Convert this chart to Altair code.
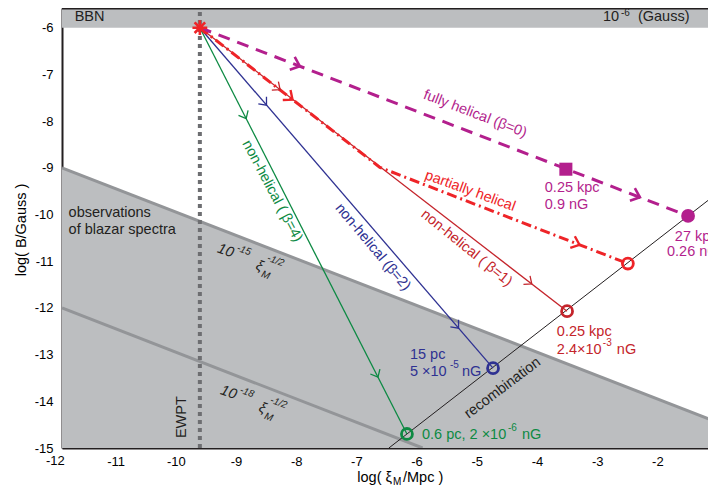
import altair as alt
import pandas as pd
import numpy as np

FONT = "Liberation Sans"
MAG = "#b31f8d"
RED = "#ee2428"
DRED = "#c4242b"
BLUE = "#2e3192"
GREEN = "#0d8a43"
DARK = "#231f20"
BAND = "#bcbec0"
BANDLINE = "#939598"
DOT = "#6d6e71"

# ---------------- data ----------------
X_DOMAIN = [-11.89, -1.159]
Y_DOMAIN = [-15, -5.578]
X_TICKS = list(range(-12, 0))
Y_TICKS = list(range(-15, -5))

W, H = 646, 440
PX = W / (X_DOMAIN[1] - X_DOMAIN[0])
PY = H / (Y_DOMAIN[1] - Y_DOMAIN[0])

start_x, start_y = -9.60, -6.0
ewpt_x = -9.60
bbn_y = -6.0

blazar_x = [-11.89, -1.0]
blazar_y = [-9.0, -14.45]          # 1e-15 xi^-1/2
low_x = [-11.89, -5.90]
low_y = [-12.0, -15.0]             # 1e-18 xi^-1/2

recomb_x = [-6.46, -1.0]
recomb_y = [-15.0, -9.54]

green_x = [-9.60, -6.16]; green_y = [-6.0, -14.70]
blue_x = [-9.60, -4.73]; blue_y = [-6.0, -13.29]
red_x = [-9.60, -3.50]; red_y = [-6.0, -12.07]
partial_x = [-9.60, -6.61, -2.49]; partial_y = [-6.0, -8.99, -11.05]
full_x = [-9.60, -1.49]; full_y = [-6.0, -10.03]

open_x = [-6.16, -4.73, -3.50, -2.49]
open_y = [-14.70, -13.29, -12.07, -11.05]
open_c = [GREEN, BLUE, DRED, RED]

mag_circle = (-1.49, -10.03)
mag_square = (-3.52, -9.03)

arrow_sets = [
    (full_x, full_y, [-7.99, -2.34], MAG, 2.6, 260),
    (partial_x, partial_y, [-8.10, -3.34], RED, 2.4, 220),
    (red_x, red_y, [-8.30, -4.12], DRED, 1.3, 160),
    (blue_x, blue_y, [-8.52, -5.33], BLUE, 1.3, 160),
    (green_x, green_y, [-8.85, -6.66], GREEN, 1.3, 160),
]

# text annotations: text, x, y, color, size, angle, dx, dy, align, italic
ANNOT = [
    ("BBN", -11.68, -5.77, DARK, 14.5, 0, 0, 0, "left", False),
    ("10", -2.905, -5.77, DARK, 14.5, 0, 0, 0, "left", False),
    ("-6", -2.905, -5.77, DARK, 10, 0, 18, -4, "left", False),
    ("(Gauss)", -2.905, -5.77, DARK, 14.5, 0, 35, 0, "left", False),
    ("fully helical (β=0)", -5.03, -7.85, MAG, 14.5, 21, 0, 0, "center", False),
    ("partially helical", -5.11, -9.50, RED, 14.5, 20, 0, 0, "center", False),
    ("non-helical ( β=1)", -5.17, -10.72, DRED, 14.5, 39, 0, 0, "center", False),
    ("non-helical (β=2)", -6.73, -10.70, BLUE, 14.5, 50, 0, 0, "center", False),
    ("non-helical ( β=4)", -8.40, -9.50, GREEN, 14.5, 62, 0, 0, "center", False),
    ("observations", -11.78, -9.97, DARK, 14.5, 0, 0, 0, "left", False),
    ("of blazar spectra", -11.78, -10.34, DARK, 14.5, 0, 0, 0, "left", False),
    ("10", -9.30, -10.72, DARK, 14.5, 20, 0, 0, "left", True),
    ("-15", -9.30, -10.72, DARK, 10, 20, 18, -7, "left", True),
    ("ξ", -9.30, -10.72, DARK, 14.5, 20, 42, 3, "left", True),
    ("-1/2", -9.30, -10.72, DARK, 10, 20, 50, -8, "left", True),
    ("M", -9.30, -10.72, DARK, 10, 20, 50, 9, "left", True),
    ("10", -9.25, -13.76, DARK, 14.5, 20, 0, 0, "left", True),
    ("-18", -9.25, -13.76, DARK, 10, 20, 18, -7, "left", True),
    ("ξ", -9.25, -13.76, DARK, 14.5, 20, 42, 3, "left", True),
    ("-1/2", -9.25, -13.76, DARK, 10, 20, 50, -8, "left", True),
    ("M", -9.25, -13.76, DARK, 10, 20, 50, 9, "left", True),
    ("EWPT", -9.90, -14.34, DARK, 14.5, 270, 0, 0, "center", False),
    ("recombination", -4.57, -13.72, DARK, 14.5, 323, 0, 0, "center", False),
    ("15 pc", -6.11, -13.01, BLUE, 14.5, 0, 0, 0, "left", False),
    ("5 ×10", -6.11, -13.37, BLUE, 14.5, 0, 0, 0, "left", False),
    ("-5", -6.11, -13.37, BLUE, 10, 0, 40, -7, "left", False),
    ("nG", -6.11, -13.37, BLUE, 14.5, 0, 52, 0, "left", False),
    ("0.25 kpc", -3.67, -12.52, DRED, 14.5, 0, 0, 0, "left", False),
    ("2.4×10", -3.67, -12.91, DRED, 14.5, 0, 0, 0, "left", False),
    ("-3", -3.67, -12.91, DRED, 10, 0, 46, -7, "left", False),
    ("nG", -3.67, -12.91, DRED, 14.5, 0, 60, 0, "left", False),
    ("0.6 pc, 2 ×10", -5.91, -14.72, GREEN, 14.5, 0, 0, 0, "left", False),
    ("-6", -5.91, -14.72, GREEN, 10, 0, 86, -7, "left", False),
    ("nG", -5.91, -14.72, GREEN, 14.5, 0, 100, 0, "left", False),
    ("0.25 kpc", -3.87, -9.43, MAG, 14.5, 0, 0, 0, "left", False),
    ("0.9 nG", -3.87, -9.80, MAG, 14.5, 0, 0, 0, "left", False),
    ("27 kpc", -1.71, -10.48, MAG, 14.5, 0, 0, 0, "left", False),
    ("0.26 nG", -1.84, -10.81, MAG, 14.5, 0, 0, 0, "left", False),
]

# axis titles (pixel positions relative to the plot area)
YTITLE = ("log( B/Gauss )", -40, 222)
XTITLE = [("log( ξ", 330, 470, 14.5, "right"), ("M", 331, 474, 10, "left"), ("/Mpc )", 341, 470, 14.5, "left")]

# ---------------- encodings ----------------
xscale = alt.Scale(domain=X_DOMAIN, nice=False, zero=False)
yscale = alt.Scale(domain=Y_DOMAIN, nice=False, zero=False)
xaxis = alt.Axis(values=X_TICKS, labelExpr="datum.value + ''", ticks=False, grid=False,
                 domainColor=DARK, domainWidth=2, labelFontSize=13, labelColor="black",
                 labelFont=FONT, labelPadding=7, labelFlush=False, labelBound=False,
                 labelOverlap=False, title=None)
yaxis = alt.Axis(values=Y_TICKS, labelExpr="datum.value + ''", ticks=False, grid=False,
                 domainColor=DARK, domainWidth=2, labelFontSize=13, labelColor="black",
                 labelFont=FONT, labelPadding=9, labelFlush=False, labelOverlap=False, title=None)


def X(f="x"):
    return alt.X(f"{f}:Q", scale=xscale, axis=xaxis)


def Y(f="y"):
    return alt.Y(f"{f}:Q", scale=yscale, axis=yaxis)


layers = []

# BBN band
bbn = pd.DataFrame({"x": [X_DOMAIN[0]], "x2": [X_DOMAIN[1]], "y": [bbn_y], "y2": [Y_DOMAIN[1]]})
layers.append(alt.Chart(bbn).mark_rect(color=BAND).encode(x=X(), x2="x2:Q", y=Y(), y2="y2:Q"))

# blazar region
bl = pd.DataFrame({"x": blazar_x, "y": blazar_y, "y2": [-15.0] * len(blazar_x)})
layers.append(alt.Chart(bl).mark_area(color=BAND, clip=True).encode(x=X(), y=Y(), y2="y2:Q"))
layers.append(alt.Chart(bl).mark_line(color=BANDLINE, strokeWidth=3, clip=True).encode(x=X(), y=Y()))
lo = pd.DataFrame({"x": low_x, "y": low_y})
layers.append(alt.Chart(lo).mark_line(color=BANDLINE, strokeWidth=3, clip=True).encode(x=X(), y=Y()))

# top frame
layers.append(alt.Chart(bbn).mark_rule(color=DARK, strokeWidth=3).encode(
    x=alt.value(0), x2=alt.value(W), y=alt.value(0)))

# EWPT dotted line
ew = pd.DataFrame({"x": [ewpt_x], "y": [-15.0], "y2": [Y_DOMAIN[1]]})
layers.append(alt.Chart(ew).mark_rule(color=DOT, strokeWidth=4, strokeDash=[4, 4]).encode(
    x=X(), y=Y(), y2="y2:Q"))

# recombination line
rc = pd.DataFrame({"x": recomb_x, "y": recomb_y})
layers.append(alt.Chart(rc).mark_line(color=DARK, strokeWidth=1, clip=True).encode(x=X(), y=Y()))


def track(xs, ys, **kw):
    df = pd.DataFrame({"x": xs, "y": ys})
    return alt.Chart(df).mark_line(clip=True, **kw).encode(x=X(), y=Y())


layers.append(track(green_x, green_y, color=GREEN, strokeWidth=1.3))
layers.append(track(blue_x, blue_y, color=BLUE, strokeWidth=1.3))
layers.append(track(red_x, red_y, color=DRED, strokeWidth=1.3))
layers.append(track(partial_x, partial_y, color=RED, strokeWidth=3, strokeDash=[10, 4, 2, 4]))
layers.append(track(full_x, full_y, color=MAG, strokeWidth=3, strokeDash=[12, 8]))

# arrow heads
CHEVRON = "M-0.6,-0.85L0.4,0L-0.6,0.85"
for xs, ys, ax, col, sw, sz in arrow_sets:
    rows = []
    for a in ax:
        i = int(np.clip(np.searchsorted(xs, a) - 1, 0, len(xs) - 2))
        slope = (ys[i + 1] - ys[i]) / (xs[i + 1] - xs[i])
        yv = ys[i] + slope * (a - xs[i])
        ang = float(np.degrees(np.arctan2(-slope * PY, PX)) % 360)
        rows.append({"x": a, "y": yv, "angle": ang})
    df = pd.DataFrame(rows)
    layers.append(alt.Chart(df).mark_point(shape=CHEVRON, filled=False, color=col, strokeWidth=sw,
                                           size=sz, opacity=1).encode(
        x=X(), y=Y(), angle=alt.Angle("angle:Q", scale=None)))

# open circles
oc = pd.DataFrame({"x": open_x, "y": open_y, "c": open_c})
layers.append(alt.Chart(oc).mark_point(shape="circle", filled=False, strokeWidth=2.8, size=120, opacity=1).encode(
    x=X(), y=Y(), color=alt.Color("c:N", scale=None)))

# filled magenta markers
mc = pd.DataFrame({"x": [mag_circle[0]], "y": [mag_circle[1]]})
layers.append(alt.Chart(mc).mark_point(shape="circle", filled=True, color=MAG, size=190, opacity=1).encode(x=X(), y=Y()))
ms = pd.DataFrame({"x": [mag_square[0]], "y": [mag_square[1]]})
layers.append(alt.Chart(ms).mark_point(shape="square", filled=True, color=MAG, size=170, opacity=1).encode(x=X(), y=Y()))

# start asterisk
ASTER = "M-1,0L1,0M0,-1L0,1M-0.71,-0.71L0.71,0.71M-0.71,0.71L0.71,-0.71"
st = pd.DataFrame({"x": [start_x], "y": [start_y]})
layers.append(alt.Chart(st).mark_point(shape=ASTER, filled=False, color=RED, strokeWidth=2.6, size=220, opacity=1).encode(
    x=X(), y=Y()))

# annotations
for t, x, y, col, sz, ang, dx, dy, al, it in ANNOT:
    df = pd.DataFrame({"x": [x], "y": [y], "t": [t]})
    kw = dict(align=al, baseline="middle", fontSize=sz, font=FONT, color=col, angle=ang, dx=dx, dy=dy)
    if it:
        kw["fontStyle"] = "italic"
    layers.append(alt.Chart(df).mark_text(**kw).encode(x=X(), y=Y(), text="t:N"))

# tick labels lying just outside the visible x-range (the axis drops them)
edge_ticks = [v for v in X_TICKS if v < X_DOMAIN[0]]
et = pd.DataFrame({"x": edge_ticks, "t": [str(v) for v in edge_ticks]})
layers.append(alt.Chart(et).mark_text(align="center", baseline="top", fontSize=13, font=FONT,
                                      color="black").encode(
    x=X(), y=alt.value(H + 7), text="t:N"))

# axis titles
ydf = pd.DataFrame({"t": [YTITLE[0]]})
layers.append(alt.Chart(ydf).mark_text(align="center", baseline="middle", fontSize=14.5, font=FONT,
                                       color="black", angle=270).encode(
    x=alt.value(YTITLE[1]), y=alt.value(YTITLE[2]), text="t:N"))
for t, px, py, sz, al in XTITLE:
    df = pd.DataFrame({"t": [t]})
    layers.append(alt.Chart(df).mark_text(align=al, baseline="middle", fontSize=sz, font=FONT,
                                          color="black").encode(
        x=alt.value(px), y=alt.value(py), text="t:N"))

chart = alt.layer(*layers).properties(
    width=W, height=H,
    autosize=alt.AutoSizeParams(type="none"),
    padding={"left": 54, "top": 0, "right": 0, "bottom": 38},
).configure_view(stroke=None).configure(background="white")

chart.save("out.html", embed_options={"renderer": "svg", "actions": False})
